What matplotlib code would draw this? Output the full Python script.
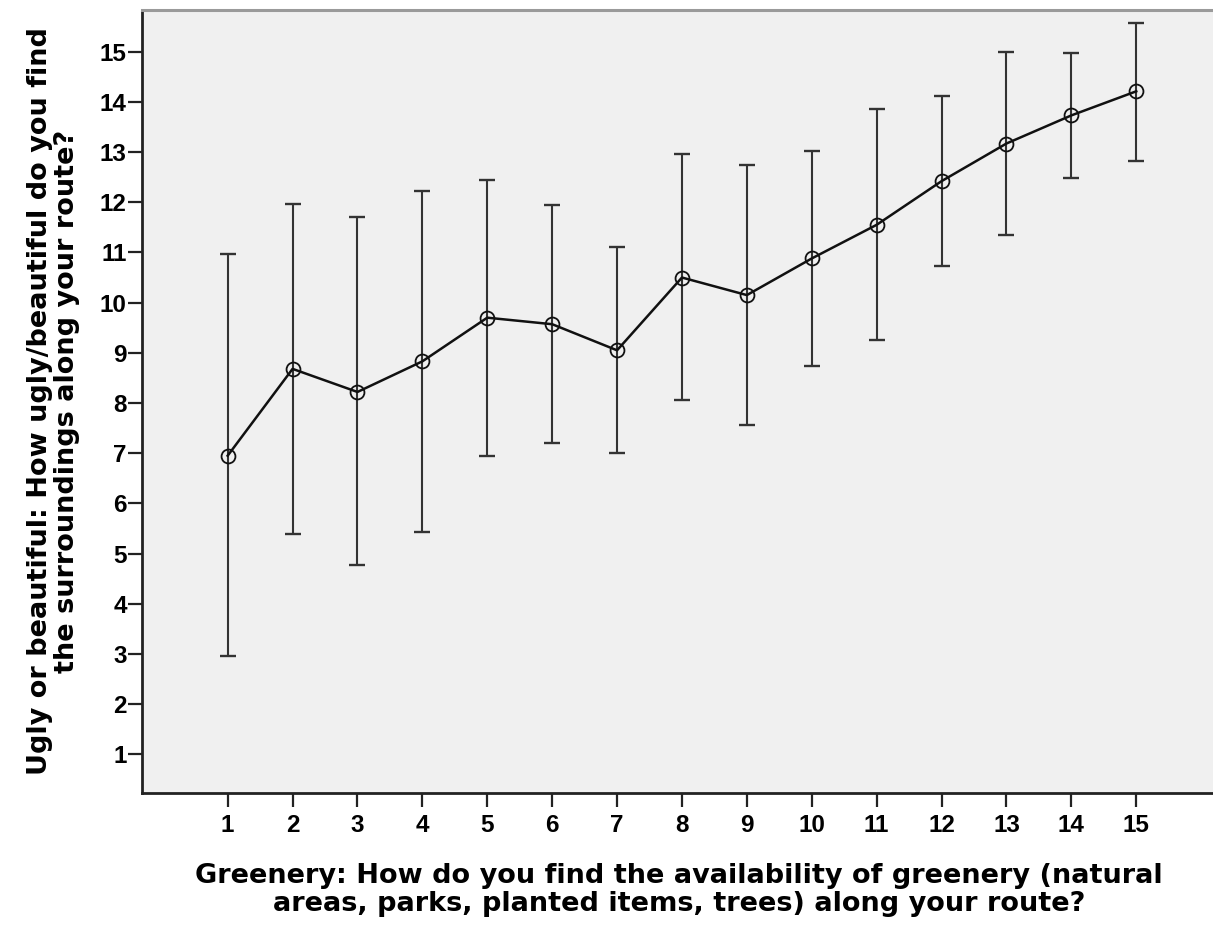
import matplotlib
matplotlib.use("Agg")
import matplotlib.pyplot as plt

categories = list(range(1, 16))
means = [6.95, 8.68, 8.22, 8.83, 9.70, 9.57, 9.05, 10.50, 10.15, 10.88, 11.55, 12.42, 13.17, 13.73, 14.21]
lower = [2.95, 5.40, 4.78, 5.43, 6.95, 7.20, 7.00, 8.05, 7.56, 8.73, 9.25, 10.72, 11.35, 12.48, 12.83]
upper = [10.97, 11.97, 11.70, 12.23, 12.45, 11.95, 11.10, 12.97, 12.75, 13.03, 13.85, 14.11, 14.99, 14.98, 15.57]
y_ticks = list(range(1, 16))

xlabel = "Greenery: How do you find the availability of greenery (natural\nareas, parks, planted items, trees) along your route?"
ylabel = "Ugly or beautiful: How ugly/beautiful do you find\nthe surroundings along your route?"

fig = plt.figure(figsize=(12.13, 9.26), dpi=100)
ax = fig.add_axes([142/1213, 1-793/926, 1-142/1213 + 0.002, (793-10)/926])
ax.set_facecolor("#F0F0F0")

err_lo = [m - l for m, l in zip(means, lower)]
err_hi = [u - m for m, u in zip(means, upper)]
ax.errorbar(categories, means, yerr=[err_lo, err_hi], fmt="none",
            ecolor="#333333", elinewidth=1.5, capsize=5.8, capthick=1.7, zorder=2)
ax.plot(categories, means, color="#111111", lw=1.8, marker="o", markersize=10,
        markerfacecolor="none", markeredgecolor="#111111", markeredgewidth=1.3, zorder=3)

ax.set_xlim(-0.32, 16.22)
ax.set_ylim(0.23, 15.83)
ax.set_xticks(categories)
ax.set_yticks(y_ticks)
ax.set_xticklabels([str(c) for c in categories])
ax.set_yticklabels([str(t) for t in y_ticks])
for lab in ax.get_xticklabels() + ax.get_yticklabels():
    lab.set_fontfamily("Liberation Sans")
    lab.set_fontweight("bold")
    lab.set_fontsize(17.5)
ax.tick_params(direction="out", length=10, width=1.6, color="#222222")
ax.tick_params(axis="y", pad=1)
ax.tick_params(axis="x", pad=5)

for s in ["left", "bottom"]:
    ax.spines[s].set_linewidth(2.0)
    ax.spines[s].set_color("#222222")
ax.spines["top"].set_linewidth(2.2)
ax.spines["top"].set_color("#9a9a9a")
ax.spines["right"].set_visible(False)

ax.set_xlabel(xlabel, fontfamily="DejaVu Sans", fontweight="bold", fontsize=19.5,
              labelpad=19, linespacing=1.08)
ax.set_ylabel(ylabel, fontfamily="DejaVu Sans", fontweight="bold", fontsize=19.5,
              labelpad=14, linespacing=1.08)

fig.savefig("out.png", dpi=100, facecolor="white")
